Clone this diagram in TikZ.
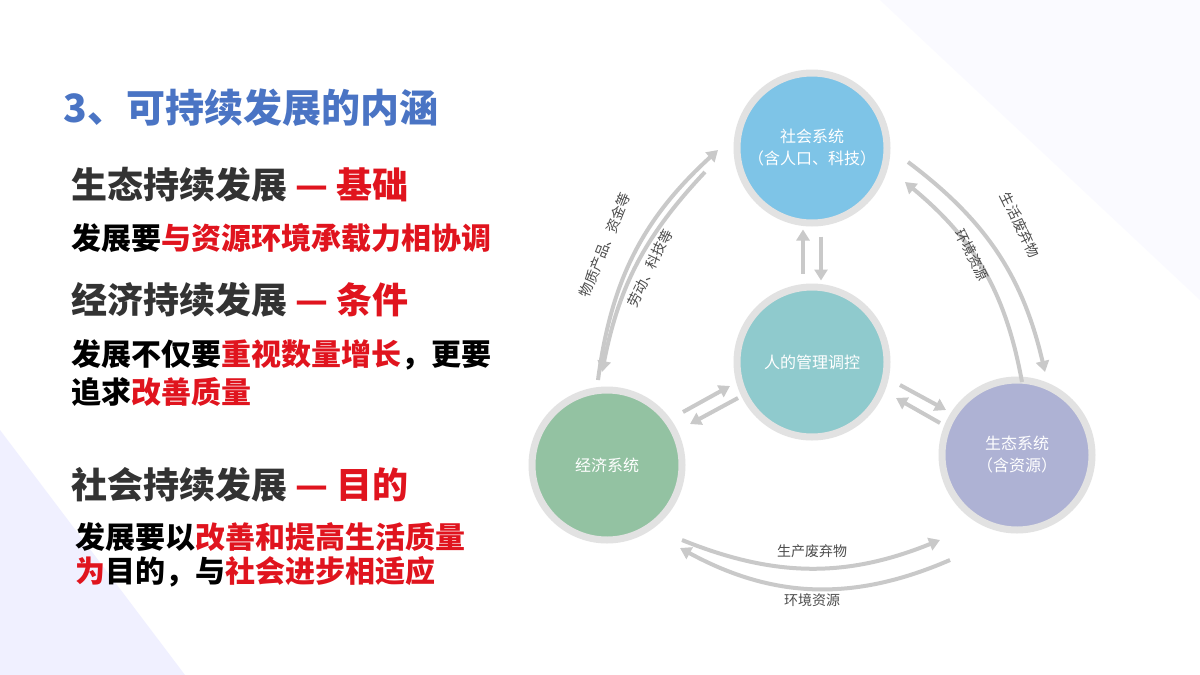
\documentclass[tikz,border=0pt]{standalone}
\usepackage{fontspec}
\setmainfont{Noto Sans CJK SC}
\usetikzlibrary{arrows.meta}
\definecolor{socblue}{HTML}{7EC4E7}
\definecolor{midteal}{HTML}{8FCACD}
\definecolor{ecogreen}{HTML}{93C2A2}
\definecolor{natpurple}{HTML}{AEB2D4}
\definecolor{ringgray}{HTML}{E2E2E2}
\definecolor{flowgray}{HTML}{C9C9C9}
\definecolor{titleblue}{HTML}{4A74C4}
\definecolor{hired}{HTML}{E0141E}
\begin{document}
\begin{tikzpicture}[x=1pt,y=-1pt]

\tikzset{system/.style = {shape=circle,draw=ringgray,line width=7pt,minimum size=150pt,text=white,font=\fontsize{16}{22}\selectfont,align=center}}
\tikzset{flow/.style = {draw=flowgray,line width=4pt,-{Triangle[length=11pt,width=13pt]}}}
\tikzset{flowlabel/.style = {font=\fontsize{14}{16}\selectfont,text=black!70}}
\tikzset{heading/.style = {anchor=west,font=\fontsize{36}{40}\selectfont\bfseries,text=black!80}}
\tikzset{body/.style = {anchor=west,font=\fontsize{30}{34}\selectfont\bfseries,text=black}}
\useasboundingbox (0,0) rectangle (1200,675);
%background
\fill[white] (0,0) rectangle (1200,675);
\fill[blue!6] (0,430) -- (185,675) -- (0,675) -- cycle;
\fill[blue!2] (880,0) -- (1200,0) -- (1200,300) -- cycle;
%text
\node[anchor=west,font=\fontsize{39}{42}\selectfont\bfseries,text=titleblue] (title) at (60,108) {3、可持续发展的内涵};
\node[heading] (h1) at (68,185) {生态持续发展 \textcolor{hired}{— 基础}};
\node[body] (b1) at (68,238) {发展要\textcolor{hired}{与资源环境承载力相协调}};
\node[heading] (h2) at (68,300) {经济持续发展 \textcolor{hired}{— 条件}};
\node[body] (b2) at (68,355) {发展不仅要\textcolor{hired}{重视数量增长}，更要};
\node[body] (b3) at (68,392) {追求\textcolor{hired}{改善质量}};
\node[heading] (h3) at (68,485) {社会持续发展 \textcolor{hired}{— 目的}};
\node[body] (b4) at (72,537) {发展要以\textcolor{hired}{改善和提高生活质量}};
\node[body] (b5) at (72,572) {\textcolor{hired}{为}目的，与\textcolor{hired}{社会进步相适应}};
%systems
\node[system, fill=socblue] (soc) at (812,148) {社会系统\\（含人口、科技）};
\node[system, fill=midteal] (mid) at (812,362) {人的管理调控};
\node[system, fill=ecogreen] (econ) at (607,465) {经济系统};
\node[system, fill=natpurple] (nat) at (1017,455) {生态系统\\（含资源）};
%flows
\coordinate (lo1) at (598,380); \coordinate (lo2) at (718,150);
\coordinate (li1) at (705,172); \coordinate (li2) at (602,372);
\coordinate (ro1) at (908,162); \coordinate (ro2) at (1045,372);
\coordinate (ri1) at (1022,382); \coordinate (ri2) at (905,182);
\coordinate (bo1) at (682,540); \coordinate (bo2) at (940,540);
\coordinate (bi1) at (950,560); \coordinate (bi2) at (680,548);
\draw[flow] (lo1) to[bend left=20] (lo2);
\draw[flow] (li1) to[bend right=16] (li2);
\draw[flow] (ro1) to[bend left=20] (ro2);
\draw[flow] (ri1) to[bend right=20] (ri2);
\draw[flow] (bo1) to[bend right=22] (bo2);
\draw[flow] (bi1) to[bend left=26] (bi2);
\draw[flow] (mid.north) ++(-9,-10) coordinate (vu1) (vu1) -- ++(0,-44);
\draw[flow] (soc.south) ++(9,10) coordinate (vd1) (vd1) -- ++(0,44);
\draw[flow] (683,412) -- (730,386);
\draw[flow] (738,398) -- (690,424);
\draw[flow] (900,385) -- (946,410);
\draw[flow] (940,423) -- (896,398);
%flow labels
\node[flowlabel, rotate=68] (t1) at (605,245) {物质产品、资金等};
\node[flowlabel, rotate=64] (t2) at (650,268) {劳动、科技等};
\node[flowlabel, rotate=-64] (t3) at (1020,225) {生活废弃物};
\node[flowlabel, rotate=-64] (t4) at (972,255) {环境资源};
\node[flowlabel] (t5) at (812,551) {生产废弃物};
\node[flowlabel] (t6) at (812,600) {环境资源};

\end{tikzpicture}
\end{document}
